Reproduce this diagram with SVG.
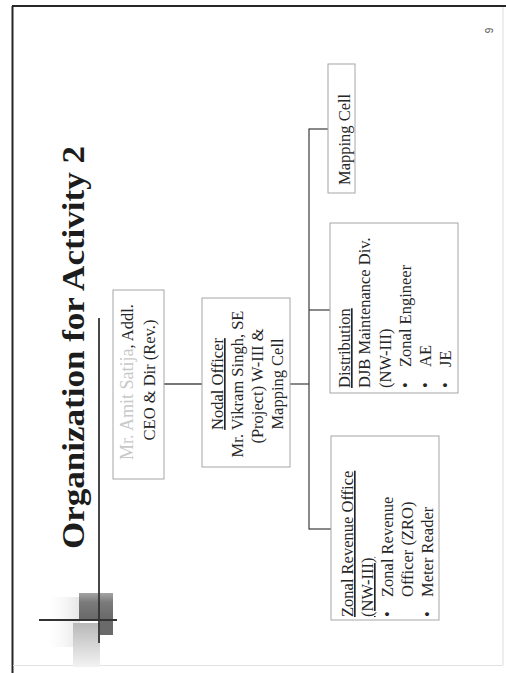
<svg xmlns="http://www.w3.org/2000/svg" width="506" height="673" viewBox="0 0 506 673">
  <style>
    .t { font-family: "Liberation Serif", "Times New Roman", serif; font-size: 16.5px; fill: #262626; }
    .u { text-decoration: underline; }
    .box { fill: #ffffff; stroke: #a6a6a6; stroke-width: 1; }
    .conn { stroke: #4a4a4a; stroke-width: 1.3; fill: none; }
    .rule { stroke: #333333; stroke-width: 1.8; fill: none; }
  </style>
  <defs>
    <linearGradient id="darkBlock" x1="0" y1="0" x2="0" y2="1">
      <stop offset="0" stop-color="#a4a4a4"/>
      <stop offset="0.35" stop-color="#7a7a7a"/>
      <stop offset="1" stop-color="#686868"/>
    </linearGradient>
    <linearGradient id="paleBlock" x1="0" y1="0" x2="0" y2="1">
      <stop offset="0" stop-color="#b8b8b8"/>
      <stop offset="1" stop-color="#f3f3f3"/>
    </linearGradient>
    <linearGradient id="hazeBlock" x1="0" y1="0" x2="1" y2="0">
      <stop offset="0" stop-color="#f7f7f7" stop-opacity="0"/>
      <stop offset="1" stop-color="#e6e6e6"/>
    </linearGradient>
  </defs>

  <rect width="506" height="673" fill="#ffffff"/>

  <!-- slide frame -->
  <g id="frame">
    <line x1="12.5" y1="6" x2="12.5" y2="673" stroke="#262626" stroke-width="2"/>
    <line x1="12" y1="6" x2="506" y2="6" stroke="#262626" stroke-width="2"/>
    <line x1="503" y1="7" x2="503" y2="665" stroke="#dcdcdc" stroke-width="1"/>
    <line x1="13" y1="665.5" x2="503" y2="665.5" stroke="#e2e2e2" stroke-width="1"/>
  </g>

  <!-- corner ornament and title rule -->
  <g id="ornament">
    <rect x="47" y="597" width="33" height="50" fill="url(#hazeBlock)"/>
    <rect x="73" y="623" width="27" height="44" fill="url(#paleBlock)"/>
    <rect x="79" y="593" width="34" height="27" fill="url(#darkBlock)"/>
    <rect x="100" y="620" width="13" height="15" fill="#6a6a6a"/>
    <line x1="39" y1="620" x2="117" y2="620" class="rule"/>
    <line x1="99" y1="318" x2="99" y2="643" class="rule"/>
  </g>

  <g id="title">
    <text transform="translate(84,549) rotate(-90)" font-family="'Liberation Serif', 'Times New Roman', serif" font-size="32" font-weight="bold" fill="#1c1c1c" textLength="403" lengthAdjust="spacingAndGlyphs">Organization for Activity 2</text>
  </g>

  <g id="page-number">
    <text transform="translate(493,30.5) rotate(-90)" text-anchor="middle" font-family="'Liberation Sans', Arial, sans-serif" font-size="10" fill="#555555">9</text>
  </g>

  <!-- connectors -->
  <g id="connectors">
    <line class="conn" x1="164" y1="384" x2="202" y2="384"/>
    <line class="conn" x1="290" y1="384" x2="309" y2="384"/>
    <line class="conn" x1="309" y1="128.5" x2="309" y2="529.5"/>
    <line class="conn" x1="309" y1="129" x2="328" y2="129"/>
    <line class="conn" x1="309" y1="310" x2="330" y2="310"/>
    <line class="conn" x1="309" y1="529" x2="331" y2="529"/>
  </g>

  <g id="node-ceo">
    <rect class="box" x="113" y="290" width="51" height="189"/>
    <text class="t" transform="translate(133,382) rotate(-90)" text-anchor="middle"><tspan fill="#c8c8c8" font-size="18">Mr. Amit Satija</tspan>, Addl.</text>
    <text class="t" transform="translate(154.5,380) rotate(-90)" text-anchor="middle">CEO &amp; Dir (Rev.)</text>
  </g>

  <g id="node-nodal">
    <rect class="box" x="202" y="298" width="88" height="169"/>
    <text class="t u" transform="translate(223,384) rotate(-90)" text-anchor="middle">Nodal Officer</text>
    <text class="t" transform="translate(243,384) rotate(-90)" text-anchor="middle">Mr. Vikram Singh, SE</text>
    <text class="t" transform="translate(263,386) rotate(-90)" text-anchor="middle">(Project) W-III &amp;</text>
    <text class="t" transform="translate(283,384) rotate(-90)" text-anchor="middle">Mapping Cell</text>
  </g>

  <g id="node-mapping">
    <rect class="box" x="328" y="64" width="27" height="129"/>
    <text class="t" transform="translate(350,185) rotate(-90)">Mapping Cell</text>
  </g>

  <g id="node-distribution">
    <rect class="box" x="330" y="223" width="128" height="170"/>
    <text class="t u" transform="translate(350,388) rotate(-90)">Distribution</text>
    <text class="t" transform="translate(370,388) rotate(-90)">DJB Maintenance Div.</text>
    <text class="t" transform="translate(390.5,388) rotate(-90)">(NW-III)</text>
    <text class="t" transform="translate(411,388) rotate(-90)">•</text>
    <text class="t" transform="translate(411,367) rotate(-90)">Zonal Engineer</text>
    <text class="t" transform="translate(431,388) rotate(-90)">•</text>
    <text class="t" transform="translate(431,367) rotate(-90)">AE</text>
    <text class="t" transform="translate(451,388) rotate(-90)">•</text>
    <text class="t" transform="translate(451,367) rotate(-90)">JE</text>
  </g>

  <g id="node-zro">
    <rect class="box" x="331" y="436" width="108" height="184"/>
    <text class="t u" transform="translate(353,617) rotate(-90)">Zonal Revenue Office</text>
    <text class="t u" transform="translate(373,617) rotate(-90)">(NW-III)</text>
    <text class="t" transform="translate(393,617) rotate(-90)">•</text>
    <text class="t" transform="translate(393,597) rotate(-90)">Zonal Revenue</text>
    <text class="t" transform="translate(413,597) rotate(-90)">Officer (ZRO)</text>
    <text class="t" transform="translate(433,617) rotate(-90)">•</text>
    <text class="t" transform="translate(433,597) rotate(-90)">Meter Reader</text>
  </g>
</svg>
